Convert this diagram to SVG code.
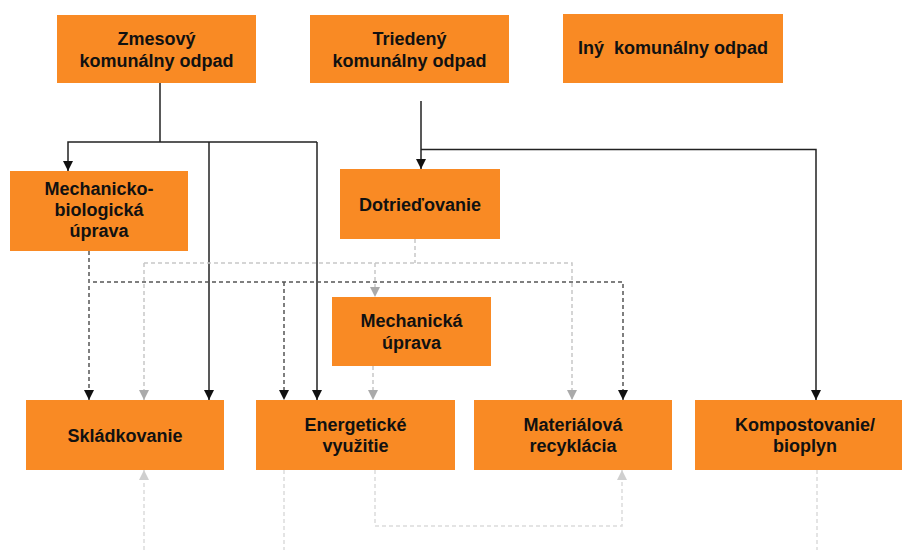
<svg xmlns="http://www.w3.org/2000/svg" width="902" height="550" viewBox="0 0 902 550">
<defs>
<style>
.box{fill:#F98A24;}
.t{font-family:"Liberation Sans",Arial,sans-serif;font-weight:bold;font-size:18px;fill:#111;text-anchor:middle;white-space:pre;}
.solid{fill:none;stroke:#222;stroke-width:1.5;}
.dark{fill:none;stroke:#555;stroke-width:1.5;stroke-dasharray:4 3;}
.gray{fill:none;stroke:#c8c8c8;stroke-width:1.5;stroke-dasharray:4 3;}
.light{fill:none;stroke:#dcdcdc;stroke-width:1.5;stroke-dasharray:4 3;}
</style>
<marker id="aBlack" viewBox="0 0 10 10" refX="10" refY="5" markerWidth="10" markerHeight="10" markerUnits="userSpaceOnUse" orient="auto"><path d="M0,0 L10,5 L0,10 z" fill="#111"/></marker>
<marker id="aGray" viewBox="0 0 10 10" refX="10" refY="5" markerWidth="10" markerHeight="10" markerUnits="userSpaceOnUse" orient="auto"><path d="M0,0 L10,5 L0,10 z" fill="#aaa"/></marker>
<marker id="aLight" viewBox="0 0 10 10" refX="10" refY="5" markerWidth="10" markerHeight="10" markerUnits="userSpaceOnUse" orient="auto"><path d="M0,0 L10,5 L0,10 z" fill="#cfcfcf"/></marker>
</defs>
<rect width="902" height="550" fill="#fff"/>
<g id="connectors">
<path class="solid" d="M160,83 V142"/>
<path class="solid" d="M317,142 H68 V171" marker-end="url(#aBlack)"/>
<path class="solid" d="M209,142 V400" marker-end="url(#aBlack)"/>
<path class="solid" d="M317,142 V400" marker-end="url(#aBlack)"/>
<path class="solid" d="M421,101 V169" marker-end="url(#aBlack)"/>
<path class="solid" d="M421,149.5 H816 V400" marker-end="url(#aBlack)"/>
<path class="dark" d="M89,251 V400" marker-end="url(#aBlack)"/>
<path class="dark" d="M93,282 H623 V400" marker-end="url(#aBlack)"/>
<path class="dark" d="M284,282 V400" marker-end="url(#aBlack)"/>
<path class="gray" d="M415,239 V263"/>
<path class="gray" d="M144,263 H572 V400" marker-end="url(#aGray)"/>
<path class="gray" d="M144,263 V400" marker-end="url(#aGray)"/>
<path class="gray" d="M375,263 V297" marker-end="url(#aGray)"/>
<path class="gray" d="M373,366 V400" marker-end="url(#aGray)"/>
<path class="light" d="M144,550 V470" marker-end="url(#aLight)"/>
<path class="light" d="M284,470 V550"/>
<path class="light" d="M375,470 V526 H622 V470" marker-end="url(#aLight)"/>
<path class="light" d="M817,470 V550"/>
</g>
<g id="zmesovy"><rect class="box" x="57" y="15" width="199" height="68"/><text class="t" x="156.5" y="45">Zmesový</text><text class="t" x="156.5" y="67">komunálny odpad</text></g>
<g id="triedeny"><rect class="box" x="310" y="15" width="199" height="68"/><text class="t" x="409.5" y="45">Triedený</text><text class="t" x="409.5" y="67">komunálny odpad</text></g>
<g id="iny"><rect class="box" x="563" y="14" width="220" height="69"/><text class="t" x="673" y="54">Iný  komunálny odpad</text></g>
<g id="mbu"><rect class="box" x="10" y="171" width="178" height="80"/><text class="t" x="99" y="195">Mechanicko-</text><text class="t" x="99" y="216">biologická</text><text class="t" x="99" y="237">úprava</text></g>
<g id="dotriedovanie"><rect class="box" x="340" y="169" width="160" height="70"/><text class="t" x="420" y="211">Dotrieďovanie</text></g>
<g id="mu"><rect class="box" x="332" y="297" width="159" height="69"/><text class="t" x="411.5" y="327">Mechanická</text><text class="t" x="411.5" y="349">úprava</text></g>
<g id="skladkovanie"><rect class="box" x="26" y="400" width="198" height="70"/><text class="t" x="125" y="442">Skládkovanie</text></g>
<g id="energeticke"><rect class="box" x="256" y="400" width="199" height="70"/><text class="t" x="355.5" y="431">Energetické</text><text class="t" x="355.5" y="452">využitie</text></g>
<g id="materialova"><rect class="box" x="474" y="400" width="198" height="70"/><text class="t" x="573" y="431">Materiálová</text><text class="t" x="573" y="452">recyklácia</text></g>
<g id="kompostovanie"><rect class="box" x="695" y="400" width="220" height="70"/><text class="t" x="805" y="431">Kompostovanie/</text><text class="t" x="805" y="452">bioplyn</text></g>
</svg>
